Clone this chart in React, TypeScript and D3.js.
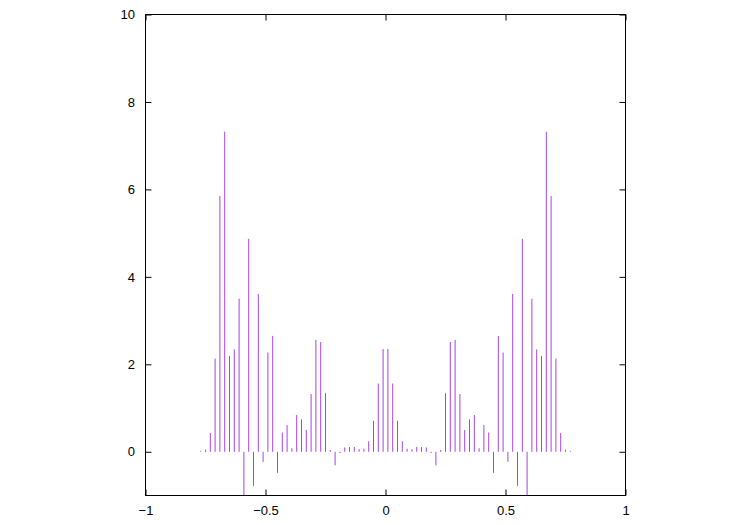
import type { ScaleLinear } from 'd3';
import { axisBottom, axisLeft, axisRight, axisTop, range, scaleLinear, select } from 'd3';
import { useEffect, useRef } from 'react';

// sample positions: -0.77 .. 0.77 every 0.02
const xValues: number[] = range(78).map((i) => +(-0.77 + i * 0.02).toFixed(2));

// impulse heights (left to right)
const yValues: number[] = [
  0.02, 0.05, 0.43, 2.13, 5.85, 7.32, 2.19, 2.34, 3.5, -1.5,
  4.87, -0.78, 3.61, -0.23, 2.27, 2.65, -0.48, 0.44, 0.61, 0.08,
  0.84, 0.74, 0.5, 1.32, 2.56, 2.51, 1.34, 0.04, -0.31, -0.03,
  0.1, 0.11, 0.11, 0.06, 0.07, 0.24, 0.71, 1.56, 2.35,
  2.35, 1.56, 0.71, 0.24, 0.07, 0.06, 0.11, 0.11, 0.1, -0.03,
  -0.31, 0.04, 1.34, 2.51, 2.56, 1.32, 0.5, 0.74, 0.84, 0.08,
  0.61, 0.44, -0.48, 2.65, 2.27, -0.23, 3.61, -0.78, 4.87, -1.5,
  3.5, 2.34, 2.19, 7.32, 5.85, 2.13, 0.43, 0.05, 0.02,
];

const xTicks = [-1, -0.5, 0, 0.5, 1];
const xTickLabels = ['\u22121', '\u22120.5', '0', '0.5', '1'];
const yTicks = [0, 2, 4, 6, 8, 10];
const yTickLabels = ['0', '2', '4', '6', '8', '10'];

const FONT = '"Liberation Sans", Arial, Helvetica, sans-serif';

interface AxisProps {
  scale: ScaleLinear<number, number, never>;
  transform?: string;
}

const styleAxis = (g: any) => {
  g.select('.domain').remove();
  g.attr('font-family', FONT).attr('font-size', 13);
  g.selectAll('.tick line').attr('stroke', '#000');
  g.selectAll('.tick text').attr('fill', '#000');
};

const AxisBottom = ({ scale, transform }: AxisProps) => {
  const ref = useRef<SVGGElement>(null);
  useEffect(() => {
    if (ref.current) {
      const g = select(ref.current);
      g.call(
        axisBottom(scale)
          .tickValues(xTicks)
          .tickSize(-6)
          .tickPadding(10.5)
          .tickFormat((_d, i) => xTickLabels[i]),
      );
      styleAxis(g);
    }
  }, [scale]);
  return <g ref={ref} transform={transform} />;
};

const AxisTop = ({ scale, transform }: AxisProps) => {
  const ref = useRef<SVGGElement>(null);
  useEffect(() => {
    if (ref.current) {
      const g = select(ref.current);
      g.call(axisTop(scale).tickValues(xTicks).tickSize(-6).tickFormat(() => ''));
      styleAxis(g);
    }
  }, [scale]);
  return <g ref={ref} transform={transform} />;
};

const AxisLeft = ({ scale, transform }: AxisProps) => {
  const ref = useRef<SVGGElement>(null);
  useEffect(() => {
    if (ref.current) {
      const g = select(ref.current);
      g.call(
        axisLeft(scale)
          .tickValues(yTicks)
          .tickSize(-6)
          .tickPadding(10.5)
          .tickFormat((_d, i) => yTickLabels[i]),
      );
      styleAxis(g);
    }
  }, [scale]);
  return <g ref={ref} transform={transform} />;
};

const AxisRight = ({ scale, transform }: AxisProps) => {
  const ref = useRef<SVGGElement>(null);
  useEffect(() => {
    if (ref.current) {
      const g = select(ref.current);
      g.call(axisRight(scale).tickValues(yTicks).tickSize(-6).tickFormat(() => ''));
      styleAxis(g);
    }
  }, [scale]);
  return <g ref={ref} transform={transform} />;
};

export default function App() {
  const width = 750;
  const height = 525;
  const left = 145.5;
  const right = 625.5;
  const top = 14.5;
  const bottom = 495.5;

  const scaleX = scaleLinear().domain([-1, 1]).range([left, right]);
  const scaleY = scaleLinear().domain([-1, 10]).range([bottom, top]);

  return (
    <svg
      width={width}
      height={height}
      style={{ position: 'absolute', left: 0, top: 0, background: '#fff' }}
    >
      <defs>
        <clipPath id="plot-clip">
          <rect x={left} y={top} width={right - left} height={bottom - top} />
        </clipPath>
      </defs>
      <g clipPath="url(#plot-clip)">
        {xValues.map((x, i) => (
          <line
            key={`imp-${i}`}
            x1={scaleX(x)}
            x2={scaleX(x)}
            y1={scaleY(0)}
            y2={scaleY(yValues[i])}
            stroke="#a445e8"
            strokeWidth={1}
          />
        ))}
      </g>
      <AxisBottom scale={scaleX} transform={`translate(0, ${bottom})`} />
      <AxisTop scale={scaleX} transform={`translate(0, ${top})`} />
      <AxisLeft scale={scaleY} transform={`translate(${left}, 0)`} />
      <AxisRight scale={scaleY} transform={`translate(${right}, 0)`} />
      <rect
        x={left}
        y={top}
        width={right - left}
        height={bottom - top}
        fill="none"
        stroke="#000"
        strokeWidth={1}
      />
    </svg>
  );
}
